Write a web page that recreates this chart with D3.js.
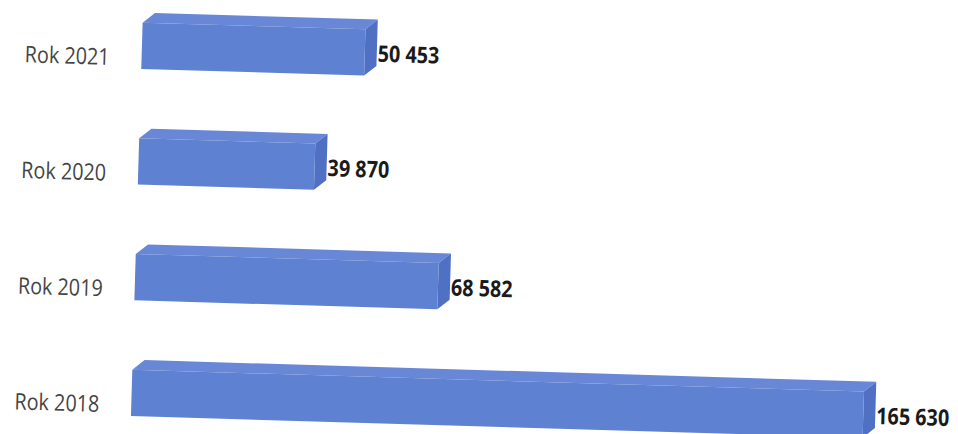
<!DOCTYPE html>
<html>
<head>
<meta charset="utf-8">
<script src="https://cdn.jsdelivr.net/npm/d3@7"></script>
<style>
  body { margin: 0; background: #fff; }
  svg { display: block; }
</style>
</head>
<body>
<div id="chart"></div>
<script>
(function() {
  // data, top to bottom as in the picture
  var years = ["Rok 2021", "Rok 2020", "Rok 2019", "Rok 2018"]
  var values = [50453, 39870, 68582, 165630]

  var width = 958, height = 434

  var svg = d3.select("#chart")
      .append("svg")
      .attr("width", width)
      .attr("height", height)

  // the scan is tilted a little clockwise
  var g = svg.append("g")
      .attr("transform", "rotate(1.7, 480, 217)")

  var xPositionScale = d3.scaleLinear().domain([0, 165630]).range([137, 869])
  var yPositionScale = d3.scaleBand().domain(years).range([-2, 461])
      .paddingInner(0.6).paddingOuter(0.3)

  var fmt = d3.formatLocale({decimal: ",", thousands: " ", grouping: [3], currency: ["", ""]}).format(",d")

  var dx = 12, dy = -10   // 3d depth
  var squeeze = 0.86      // text in the scan is narrower than it is tall

  var datapoints = years.map(function(y, i) { return {year: y, value: values[i]} })

  var bars = g.selectAll(".bar")
      .data(datapoints)
      .enter().append("g")
      .attr("class", "bar")

  // top face
  bars.append("path")
      .attr("fill", "#6887d6")
      .attr("d", function(d) {
        var x0 = xPositionScale(0), x1 = xPositionScale(d.value), y0 = yPositionScale(d.year)
        return "M" + x0 + "," + y0 + "L" + (x0 + dx) + "," + (y0 + dy) +
          "L" + (x1 + dx) + "," + (y0 + dy) + "L" + x1 + "," + y0 + "Z"
      })

  // side face
  bars.append("path")
      .attr("fill", "#5070c4")
      .attr("d", function(d) {
        var x1 = xPositionScale(d.value), y0 = yPositionScale(d.year), y1 = y0 + yPositionScale.bandwidth()
        return "M" + x1 + "," + y0 + "L" + (x1 + dx) + "," + (y0 + dy) +
          "L" + (x1 + dx) + "," + (y1 + dy) + "L" + x1 + "," + y1 + "Z"
      })

  // front face
  bars.append("rect")
      .attr("fill", "#5f81d1")
      .attr("x", xPositionScale(0))
      .attr("y", d => yPositionScale(d.year))
      .attr("width", d => xPositionScale(d.value) - xPositionScale(0))
      .attr("height", yPositionScale.bandwidth())

  // value labels
  bars.append("text")
      .attr("transform", d => "translate(" + (xPositionScale(d.value) + dx + 1) + "," +
        (yPositionScale(d.year) + yPositionScale.bandwidth() / 2 + 9) + ") scale(" + squeeze + ",1)")
      .attr("font-family", "'Open Sans', sans-serif")
      .attr("font-weight", "bold")
      .attr("font-size", 23)
      .attr("fill", "#1a1a1a")
      .text(d => fmt(d.value))

  // category labels
  g.selectAll(".cat")
      .data(years)
      .enter().append("text")
      .attr("class", "cat")
      .attr("transform", d => "translate(105," + (yPositionScale(d) + yPositionScale.bandwidth() / 2 + 20) + ") scale(" + squeeze + ",1)")
      .attr("text-anchor", "end")
      .attr("font-family", "'Open Sans', sans-serif")
      .attr("font-size", 23)
      .attr("fill", "#444")
      .text(d => d)
})()
</script>
</body>
</html>
